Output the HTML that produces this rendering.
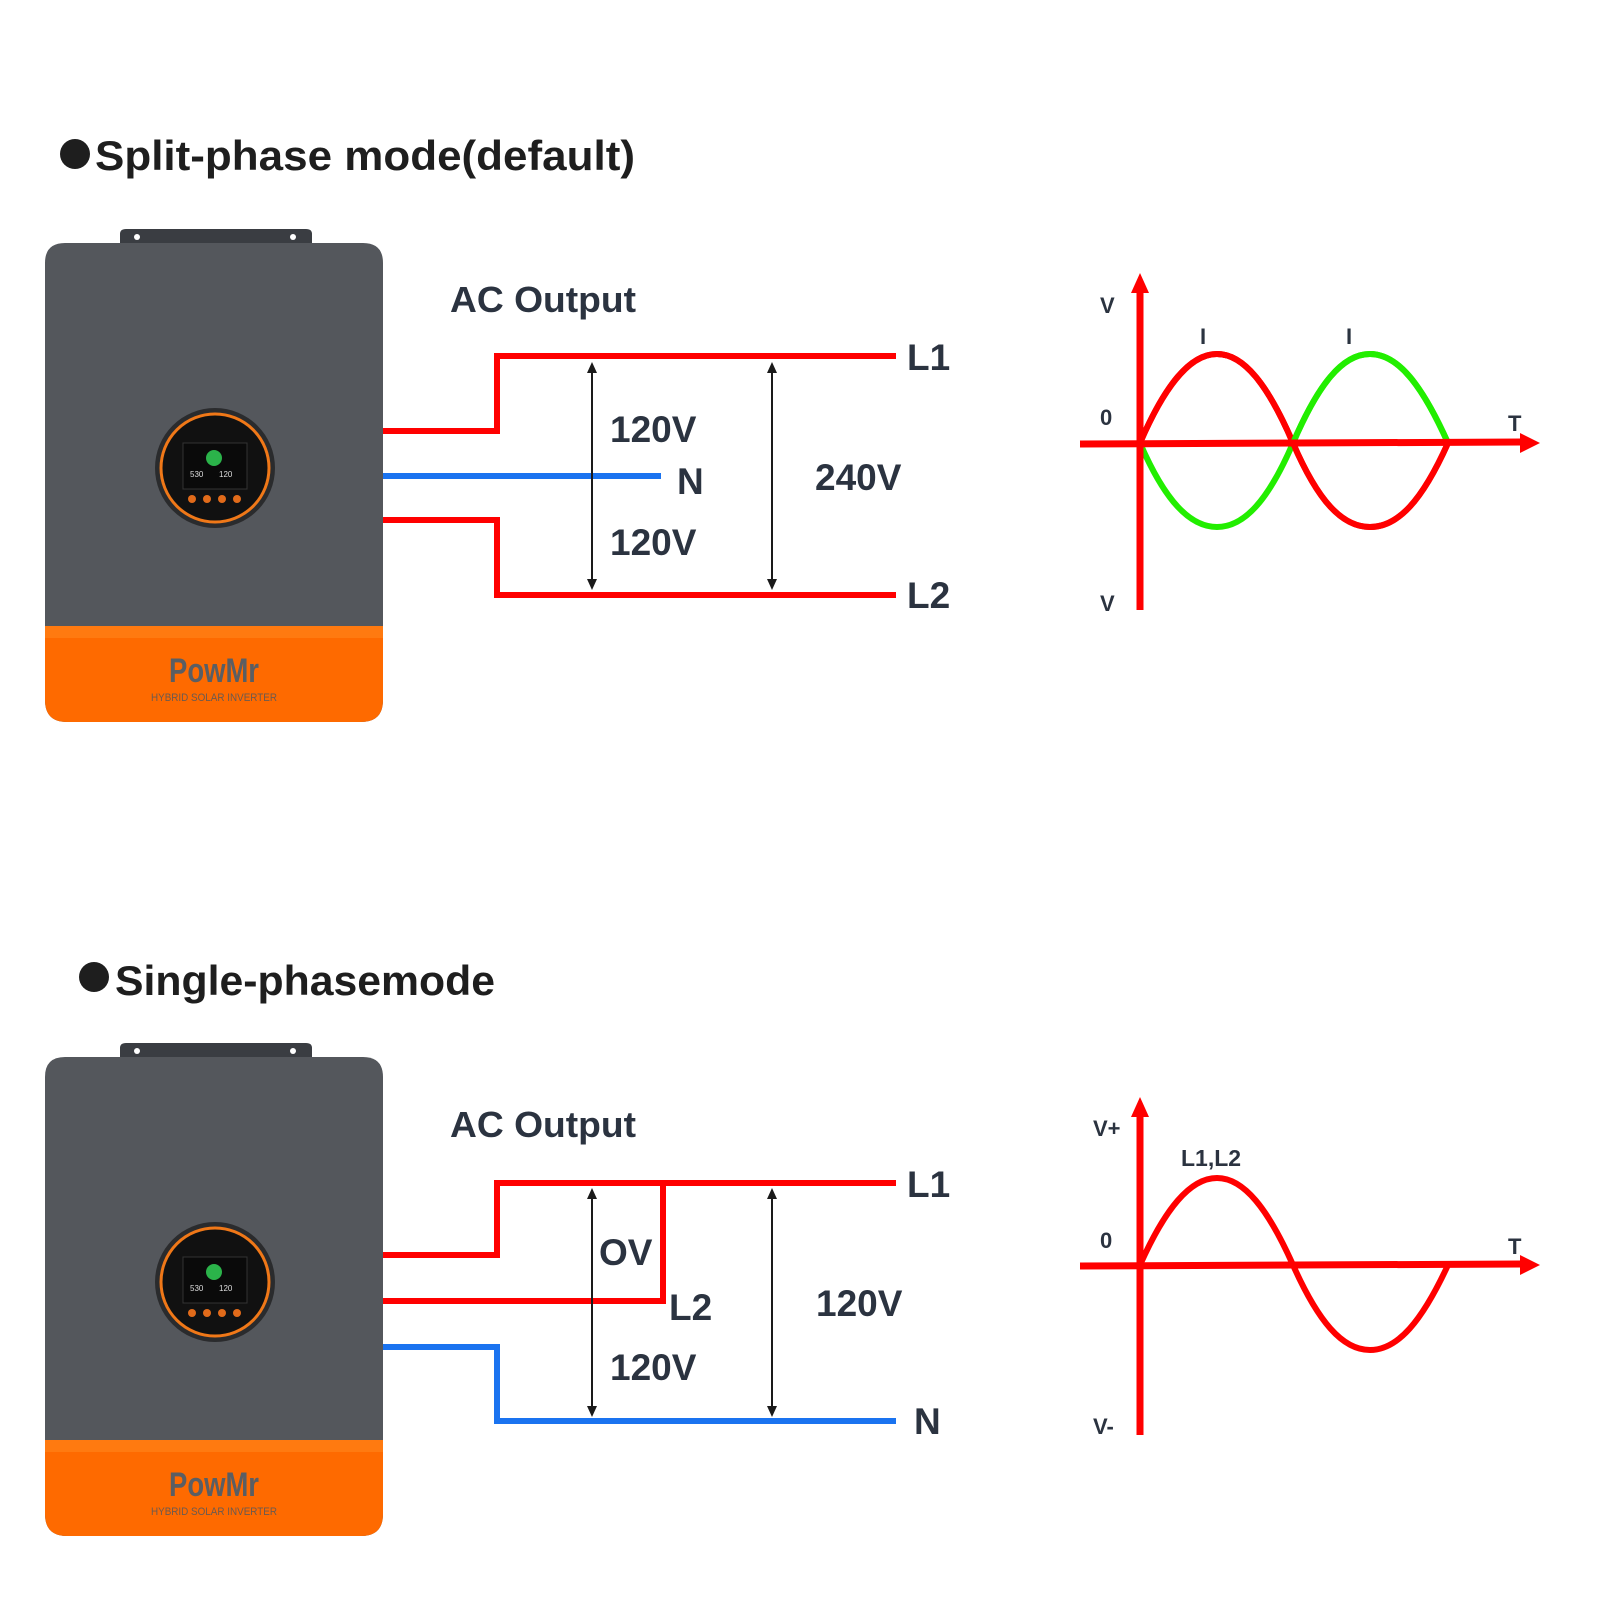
<!DOCTYPE html>
<html><head><meta charset="utf-8"><style>
html,body{margin:0;padding:0;background:#fff;}
svg{display:block;}
text{font-family:"Liberation Sans",sans-serif;font-weight:bold;}
</style></head><body>
<svg width="1600" height="1600" viewBox="0 0 1600 1600" xmlns="http://www.w3.org/2000/svg">
<defs>
<g id="inv">
  <path d="M120 243 L120 234 Q120 229 126 229 L306 229 Q312 229 312 234 L312 243 Z" fill="#3a3d42"/>
  <circle cx="137" cy="237" r="3" fill="#fff"/><circle cx="293" cy="237" r="3" fill="#fff"/>
  <path d="M45 263 Q45 243 65 243 L363 243 Q383 243 383 263 L383 700 Q383 722 361 722 L67 722 Q45 722 45 700 Z" fill="#54575c"/>
  <path d="M45 626 L383 626 L383 700 Q383 722 361 722 L67 722 Q45 722 45 700 Z" fill="#fe6a00"/>
  <rect x="45" y="626" width="338" height="12" fill="#ff7a10"/>
  <text x="214" y="682" font-size="34" fill="#5a5e63" text-anchor="middle" textLength="90" lengthAdjust="spacingAndGlyphs" style="font-family:'Liberation Sans Narrow','Liberation Sans',sans-serif">PowMr</text>
  <text x="214" y="701" font-size="11" fill="#6a5a50" text-anchor="middle" textLength="126" lengthAdjust="spacingAndGlyphs" style="font-weight:normal">HYBRID SOLAR INVERTER</text>
  <circle cx="215" cy="468" r="60" fill="#2a2b2d"/>
  <circle cx="215" cy="468" r="54" fill="#111" stroke="#f07818" stroke-width="3"/>
  <rect x="183" y="443" width="64" height="46" fill="#0a0a0a" stroke="#333" stroke-width="1"/>
  <circle cx="214" cy="458" r="8" fill="#2bb34a"/>
  <text x="190" y="477" font-size="8" fill="#ddd" style="font-weight:normal">530</text>
  <text x="219" y="477" font-size="8" fill="#ddd" style="font-weight:normal">120</text>
  <circle cx="192" cy="499" r="4" fill="#e26b1a"/><circle cx="207" cy="499" r="4" fill="#e26b1a"/>
  <circle cx="222" cy="499" r="4" fill="#e26b1a"/><circle cx="237" cy="499" r="4" fill="#e26b1a"/>
</g>
</defs>

<!-- Title 1 -->
<circle cx="75" cy="154" r="15" fill="#1e1e1e"/>
<text x="95" y="170" font-size="42" fill="#1e1e1e" textLength="540" lengthAdjust="spacingAndGlyphs">Split-phase mode(default)</text>

<use href="#inv"/>

<text x="450" y="312" font-size="36" fill="#2b3340" textLength="186" lengthAdjust="spacingAndGlyphs">AC Output</text>
<g fill="none" stroke-width="6">
  <path d="M383 431 H497 V356 H896" stroke="#ff0000"/>
  <path d="M383 476 H661" stroke="#1a73f0"/>
  <path d="M383 520 H497 V595 H896" stroke="#ff0000"/>
</g>
<g stroke="#1a1a1a" stroke-width="2">
  <line x1="592" y1="370" x2="592" y2="582"/><line x1="772" y1="370" x2="772" y2="582"/>
</g>
<g fill="#1a1a1a">
  <path d="M592 362 l-5 11 h10z"/><path d="M592 590 l-5 -11 h10z"/>
  <path d="M772 362 l-5 11 h10z"/><path d="M772 590 l-5 -11 h10z"/>
</g>
<g fill="#2b3340" font-size="37">
  <text x="907" y="370">L1</text>
  <text x="907" y="608">L2</text>
  <text x="677" y="494">N</text>
  <text x="610" y="442">120V</text>
  <text x="610" y="555">120V</text>
  <text x="815" y="490">240V</text>
</g>

<!-- graph 1 -->
<g fill="none" stroke-width="6" stroke-linecap="butt">
  <path d="M1140 443 C1165 385 1190 354 1217 354 C1244 354 1268 385 1293 443 C1318 501 1342 527 1370 527 C1398 527 1422 501 1448 443" stroke="#ff0000"/>
  <path d="M1140 443 C1165 501 1190 527 1217 527 C1244 527 1268 501 1293 443 C1318 385 1342 354 1370 354 C1398 354 1422 385 1448 443" stroke="#22ee00"/>
  <path d="M1293 443 C1268 385 1244 354 1217 354" stroke="#ff0000"/>
</g>
<path d="M1140 443 C1165 385 1190 354 1217 354 C1244 354 1268 385 1293 443" fill="none" stroke="#ff0000" stroke-width="6"/>
<path d="M1293 443 C1318 385 1342 354 1370 354 C1398 354 1422 385 1448 443" fill="none" stroke="#22ee00" stroke-width="6"/>
<path d="M1293 443 C1318 501 1342 527 1370 527 C1398 527 1422 501 1448 443" fill="none" stroke="#ff0000" stroke-width="6"/>
<line x1="1080" y1="444" x2="1522" y2="442" stroke="#ff0000" stroke-width="7"/>
<path d="M1540 443 L1520 433 L1520 453 Z" fill="#ff0000"/>
<line x1="1140" y1="290" x2="1140" y2="610" stroke="#ff0000" stroke-width="7"/>
<path d="M1140 273 L1131 293 L1149 293 Z" fill="#ff0000"/>
<g fill="#2b3340" font-size="22">
  <text x="1100" y="313">V</text>
  <text x="1100" y="611">V</text>
  <text x="1100" y="425">0</text>
  <text x="1508" y="431">T</text>
  <text x="1200" y="344">I</text>
  <text x="1346" y="344">I</text>
</g>

<!-- Title 2 -->
<circle cx="94" cy="977" r="15" fill="#1e1e1e"/>
<text x="115" y="995" font-size="42" fill="#1e1e1e" textLength="380" lengthAdjust="spacingAndGlyphs">Single-phasemode</text>

<use href="#inv" transform="translate(0,814)"/>

<text x="450" y="1137" font-size="36" fill="#2b3340" textLength="186" lengthAdjust="spacingAndGlyphs">AC Output</text>
<g fill="none" stroke-width="6">
  <path d="M383 1255 H497 V1183 H896" stroke="#ff0000"/>
  <path d="M383 1301 H663 V1183" stroke="#ff0000"/>
  <path d="M383 1347 H497 V1421 H896" stroke="#1a73f0"/>
</g>
<g stroke="#1a1a1a" stroke-width="2">
  <line x1="592" y1="1196" x2="592" y2="1409"/><line x1="772" y1="1196" x2="772" y2="1409"/>
</g>
<g fill="#1a1a1a">
  <path d="M592 1188 l-5 11 h10z"/><path d="M592 1417 l-5 -11 h10z"/>
  <path d="M772 1188 l-5 11 h10z"/><path d="M772 1417 l-5 -11 h10z"/>
</g>
<g fill="#2b3340" font-size="37">
  <text x="907" y="1197">L1</text>
  <text x="914" y="1434">N</text>
  <text x="669" y="1320">L2</text>
  <text x="599" y="1265">OV</text>
  <text x="610" y="1380">120V</text>
  <text x="816" y="1316">120V</text>
</g>

<!-- graph 2 -->
<path d="M1140 1265 C1165 1209 1190 1178 1217 1178 C1244 1178 1268 1209 1293 1265 C1318 1321 1342 1350 1370 1350 C1398 1350 1422 1321 1448 1265" fill="none" stroke="#ff0000" stroke-width="6"/>
<line x1="1080" y1="1266" x2="1522" y2="1264" stroke="#ff0000" stroke-width="7"/>
<path d="M1540 1265 L1520 1255 L1520 1275 Z" fill="#ff0000"/>
<line x1="1140" y1="1115" x2="1140" y2="1435" stroke="#ff0000" stroke-width="7"/>
<path d="M1140 1097 L1131 1117 L1149 1117 Z" fill="#ff0000"/>
<g fill="#2b3340" font-size="22">
  <text x="1093" y="1136">V+</text>
  <text x="1093" y="1434">V-</text>
  <text x="1100" y="1248">0</text>
  <text x="1508" y="1254">T</text>
  <text x="1181" y="1166" font-size="23">L1,L2</text>
</g>
</svg>
</body></html>
